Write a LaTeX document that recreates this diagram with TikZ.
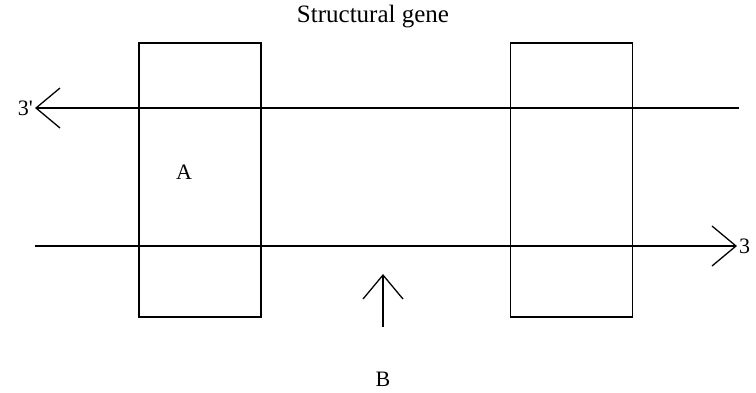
\documentclass[tikz,border=0pt]{standalone}
\usepackage{fontspec}
\setmainfont{Liberation Serif}
\usetikzlibrary{arrows.meta}
\begin{document}
\begin{tikzpicture}[
  x=1pt, y=-1pt,
  every node/.style={font=\fontsize{22}{26}\selectfont,inner sep=2pt},
  gene/.style={draw,line width=1.3pt,minimum width=122pt,minimum height=274pt,inner sep=0pt},
  strand/.style={line width=1.3pt,-{Straight Barb[length=24pt,width=40pt,line width=1.3pt]}},
  ]
  \useasboundingbox (0,0) rectangle (756,392);
  % the two boxes
  \node[gene] (left) at (200,180) {};
  \node[gene] (right) at (571.5,180) {};
  % strands
  \node[anchor=east] (end3a) at (35,108) {3\textquotesingle};
  \node[anchor=west] (end3b) at (737,246) {3};
  \coordinate (top5) at (739,108);
  \coordinate (bot5) at (35,246);
  \draw[strand] (top5) -- (end3a.east);
  \draw[strand] (bot5) -- (end3b.west);
  % labels
  \node[font=\fontsize{25}{30}\selectfont] (title) at (373,17) {Structural gene};
  \node (lblA) at (184,172) {A};
  \node (lblB) at (383,379) {B};
  \coordinate (tailB) at (383,327);
  \coordinate (tipB) at (383,274);
  \draw[strand] (tailB) -- (tipB);
\end{tikzpicture}
\end{document}
